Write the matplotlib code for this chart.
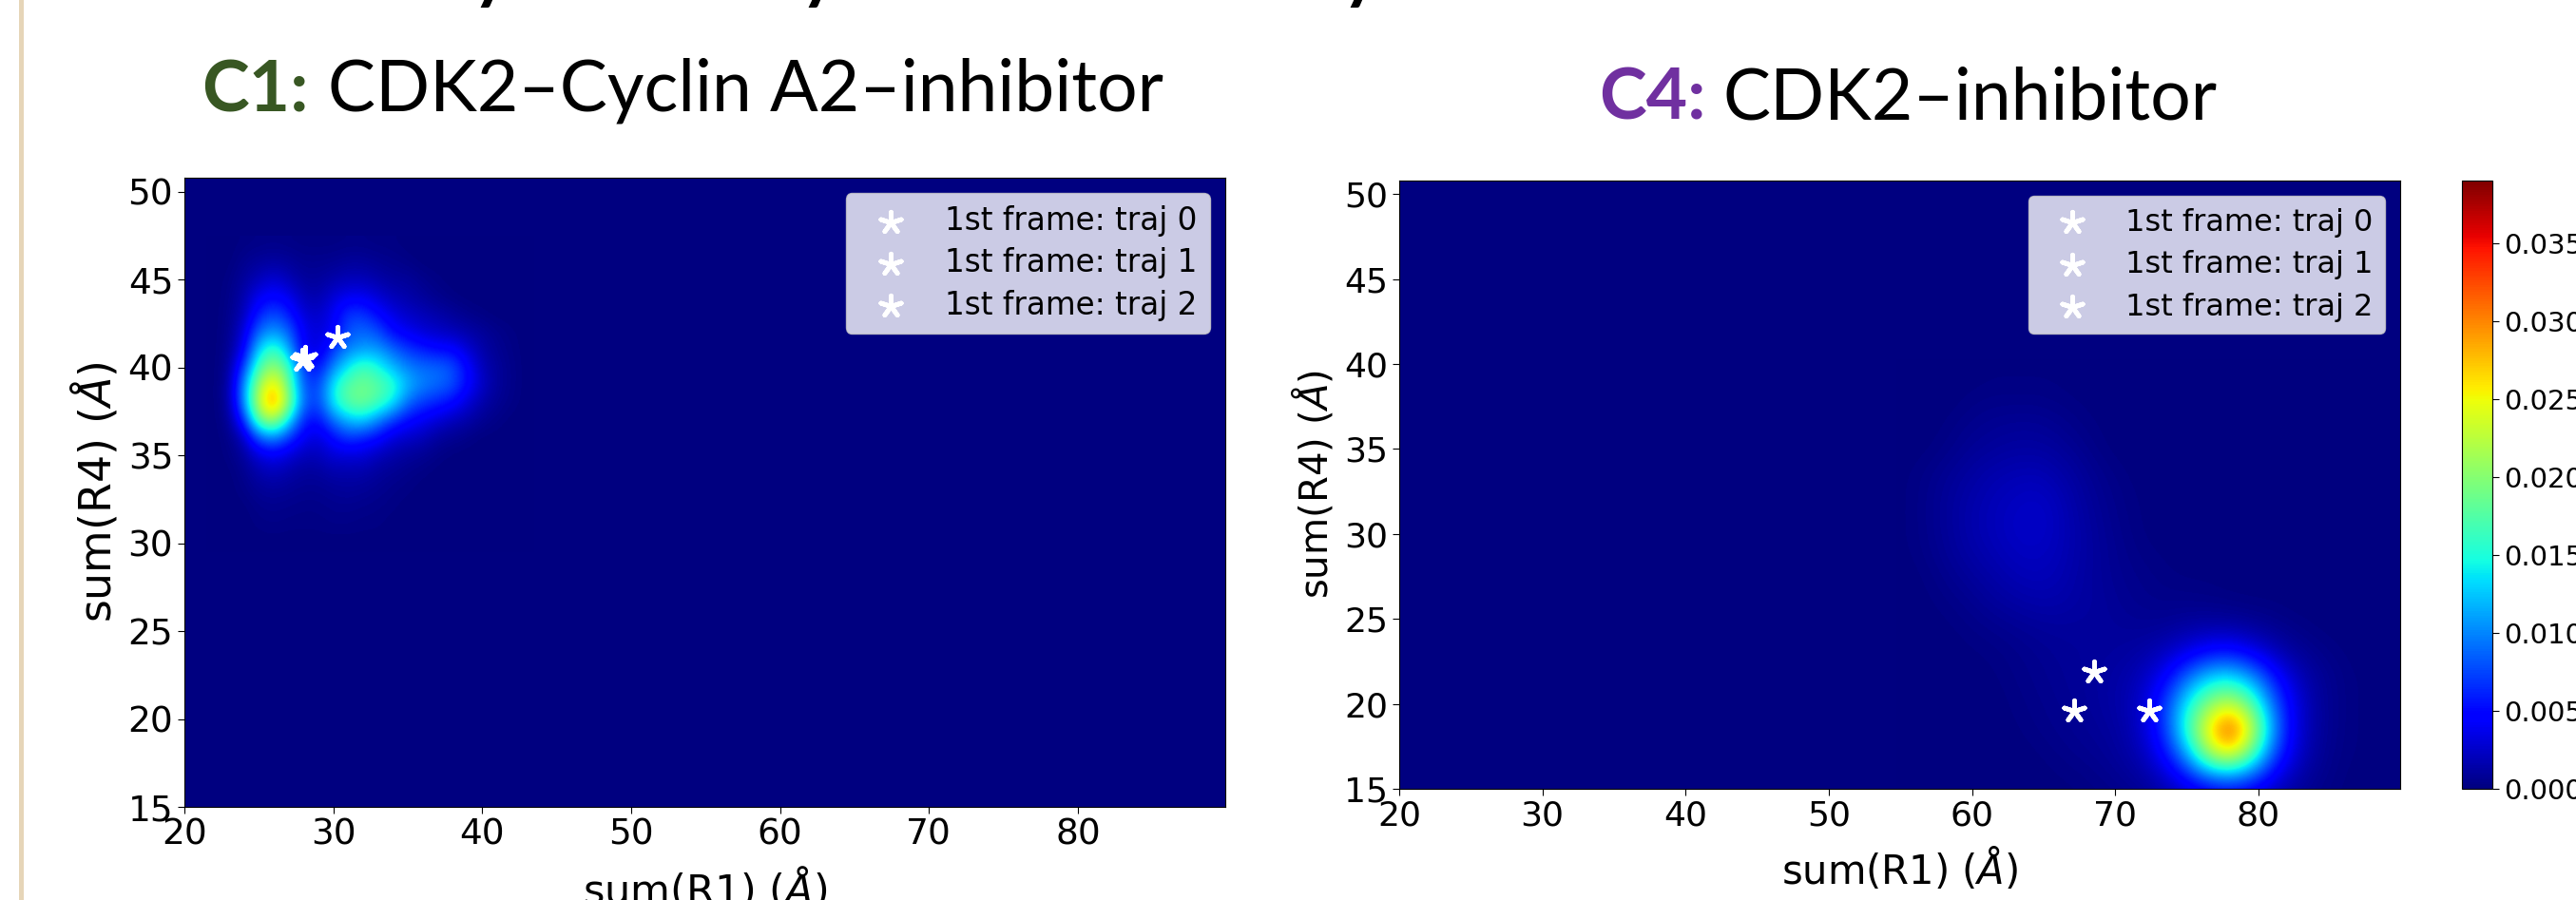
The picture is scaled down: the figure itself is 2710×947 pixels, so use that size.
"""Two 2D histograms of sum(R1) against sum(R4) with a shared colour bar."""

import numpy as np
import matplotlib
matplotlib.use('Agg')
import matplotlib.pyplot as plt
from matplotlib.patches import Rectangle

W, H = 2710, 947
VMAX = 0.039

# densities, in units of 0.001
c1_x = [22, 23, 24, 25, 26, 27, 28, 29, 30, 31, 32, 33, 34, 35, 36, 37, 38, 39, 40, 41, 42, 43]
c1_y = [47, 46, 45, 44, 43, 42, 41, 40, 39, 38, 37, 36, 35, 34, 33, 32, 31, 30]
c1_density = [
    [0, 0, 0.2, 0.3, 0.4, 0.3, 0.2, 0.2, 0.2, 0.3, 0.3, 0.2, 0.2, 0, 0, 0, 0, 0, 0, 0, 0, 0],
    [0, 0, 0.6, 1, 1.2, 1, 0.6, 0.6, 0.7, 1, 1, 0.7, 0.5, 0.3, 0, 0, 0, 0, 0, 0, 0, 0],
    [0, 0.2, 1, 2, 3, 2, 1, 1, 1.5, 2, 2, 1.5, 1, 1, 0.5, 0.2, 0, 0, 0, 0, 0, 0],
    [0, 0.3, 1.5, 4, 5, 4, 2, 1.5, 3, 4, 4, 3, 2, 1.5, 1, 0.5, 0.2, 0, 0, 0, 0, 0],
    [0, 0.4, 2, 6, 8, 6, 3, 2.5, 4, 7, 7, 5, 3.5, 2.5, 2, 1.5, 1, 0.5, 0.2, 0, 0, 0],
    [0, 0.5, 3, 9, 11, 9, 4, 3, 4, 8, 9, 8, 5, 4, 3, 2.5, 2, 1.5, 1, 0.5, 0.2, 0],
    [0, 0.6, 4, 13, 17, 12, 4, 3, 7, 10, 11, 11, 9, 7, 6, 5, 5, 3, 1.5, 0.7, 0.3, 0],
    [0, 0.8, 7, 17, 21, 17, 7, 5, 10, 14, 17, 15, 12, 10, 9, 9, 8, 5, 2, 1, 0.4, 0],
    [0, 1, 10, 21, 27, 19, 8, 7, 14, 18, 19, 18, 16, 12, 10, 9, 8, 5, 2.5, 1, 0.4, 0],
    [0, 1, 10, 23, 30, 21, 9, 7, 14, 18, 19, 17, 14, 9, 7, 6, 5, 3, 1.5, 0.7, 0.3, 0],
    [0, 0.6, 6, 18, 22, 14, 6, 5, 9, 12, 13, 10, 7, 5, 4, 3, 2, 1.5, 0.7, 0.3, 0, 0],
    [0, 0.3, 2, 8, 10, 7, 4, 3, 5, 7, 6, 5, 3, 2.5, 2, 1, 0.7, 0.3, 0, 0, 0, 0],
    [0, 0.2, 1, 3, 4, 3, 2, 2, 3, 3, 3, 2, 1.5, 1, 0.7, 0.3, 0, 0, 0, 0, 0, 0],
    [0, 0, 0.5, 1.5, 2, 1.5, 1, 1, 1.5, 1.5, 1.5, 1, 0.7, 0.4, 0.2, 0, 0, 0, 0, 0, 0, 0],
    [0, 0, 0.3, 0.8, 1, 0.8, 0.6, 0.6, 0.8, 1, 0.8, 0.6, 0.3, 0.2, 0, 0, 0, 0, 0, 0, 0, 0],
    [0, 0, 0, 0.4, 0.5, 0.4, 0.3, 0.3, 0.5, 0.5, 0.4, 0.3, 0.2, 0, 0, 0, 0, 0, 0, 0, 0, 0],
    [0, 0, 0, 0.2, 0.3, 0.2, 0.2, 0.2, 0.3, 0.3, 0.2, 0.2, 0, 0, 0, 0, 0, 0, 0, 0, 0, 0],
    [0, 0, 0, 0, 0, 0, 0, 0, 0, 0, 0, 0, 0, 0, 0, 0, 0, 0, 0, 0, 0, 0],
]

c4_x = [55.5, 57, 58.5, 60, 61.5, 63, 64.5, 66, 67.5, 69, 70.5, 72, 73.5, 75, 76.5, 78, 79.5, 81, 82.5, 84, 85.5, 87]
c4_y = [39.5, 38, 36.5, 35, 33.5, 32, 30.5, 29, 27.5, 26, 24.5, 23, 21.5, 20, 18.5, 17, 15.5, 14]
c4_density = [
    [0, 0, 0, 0, 0.1, 0.1, 0.1, 0.1, 0, 0, 0, 0, 0, 0, 0, 0, 0, 0, 0, 0, 0, 0],
    [0, 0, 0, 0.2, 0.3, 0.3, 0.3, 0.2, 0.1, 0, 0, 0, 0, 0, 0, 0, 0, 0, 0, 0, 0, 0],
    [0, 0, 0.2, 0.5, 0.7, 0.8, 0.8, 0.6, 0.3, 0.1, 0, 0, 0, 0, 0, 0, 0, 0, 0, 0, 0, 0],
    [0, 0.1, 0.4, 0.8, 1, 1.2, 1.2, 1, 0.6, 0.2, 0, 0, 0, 0, 0, 0, 0, 0, 0, 0, 0, 0],
    [0.1, 0.4, 0.8, 1.2, 1.6, 1.8, 1.9, 1.5, 1, 0.5, 0.2, 0, 0, 0, 0, 0, 0, 0, 0, 0, 0, 0],
    [0.1, 0.5, 1, 1.5, 1.9, 2.2, 2.4, 2, 1.2, 0.7, 0.3, 0.1, 0, 0, 0, 0, 0, 0, 0, 0, 0, 0],
    [0.1, 0.5, 1, 1.6, 2, 2.4, 2.6, 2.1, 1.4, 0.8, 0.4, 0.1, 0, 0, 0, 0, 0, 0, 0, 0, 0, 0],
    [0.1, 0.4, 0.9, 1.4, 1.8, 2.2, 2.3, 2, 1.4, 0.9, 0.5, 0.2, 0.1, 0, 0, 0, 0, 0, 0, 0, 0, 0],
    [0, 0.2, 0.6, 1, 1.4, 1.8, 2, 1.8, 1.3, 0.9, 0.6, 0.4, 0.2, 0.1, 0.1, 0, 0, 0, 0, 0, 0, 0],
    [0, 0.1, 0.3, 0.6, 1, 1.3, 1.5, 1.5, 1.2, 1, 0.7, 0.5, 0.4, 0.4, 0.3, 0.2, 0.1, 0.1, 0, 0, 0, 0],
    [0, 0, 0.1, 0.3, 0.5, 0.7, 0.9, 1, 1, 1, 0.9, 0.8, 0.9, 1.2, 1.4, 1.3, 1, 0.6, 0.3, 0.1, 0, 0],
    [0, 0, 0, 0.1, 0.2, 0.4, 0.6, 0.8, 0.9, 1, 1.1, 1.4, 2.2, 3.5, 5, 5.5, 4, 2.2, 1, 0.5, 0.2, 0],
    [0, 0, 0, 0, 0.1, 0.3, 0.5, 0.7, 0.9, 1.1, 1.4, 2.2, 4.5, 9, 13, 14, 11, 6, 2.5, 1, 0.4, 0.1],
    [0, 0, 0, 0, 0, 0.2, 0.4, 0.6, 0.8, 1.1, 1.5, 2.8, 7, 14, 20, 23, 18, 9, 3.5, 1.2, 0.4, 0.1],
    [0, 0, 0, 0, 0, 0.1, 0.3, 0.5, 0.7, 0.9, 1.3, 2.8, 7, 16, 26, 34, 24, 11, 3.5, 1.2, 0.4, 0.1],
    [0, 0, 0, 0, 0, 0, 0.1, 0.3, 0.5, 0.7, 1.1, 2, 5, 11, 21, 25, 18, 8, 3, 1, 0.3, 0.1],
    [0, 0, 0, 0, 0, 0, 0, 0.1, 0.2, 0.4, 0.7, 1.1, 2.2, 4.5, 7, 8, 6.5, 3.5, 1.5, 0.6, 0.2, 0],
    [0, 0, 0, 0, 0, 0, 0, 0, 0.1, 0.2, 0.3, 0.5, 1, 1.5, 2, 2.5, 2, 1.2, 0.6, 0.3, 0.1, 0],
]

# first frames of the three trajectories
c1_star_x = [27.9, 28.1, 30.3]
c1_star_y = [40.4, 40.6, 41.7]
c4_star_x = [67.1, 68.5, 72.4]
c4_star_y = [19.6, 21.9, 19.6]

legend_labels = ['1st frame: traj 0', '1st frame: traj 1', '1st frame: traj 2']
x_ticks = [20, 30, 40, 50, 60, 70, 80]
y_ticks = [15, 20, 25, 30, 35, 40, 45, 50]
cbar_ticks = [0.000, 0.005, 0.010, 0.015, 0.020, 0.025, 0.030, 0.035]


def add_axes_px(fig, left, top, right, bottom):
    return fig.add_axes([left / W, 1 - bottom / H, (right - left) / W, (bottom - top) / H])


def text_px(fig, x, y, s, **kw):
    return fig.text(x / W, 1 - y / H, s, **kw)


def plot_panel(ax, xs, ys, density, star_x, star_y, tick_size, xlabel_size, ylabel_size, legend_size, spacing):
    """Draw one density map, its start frames and the legend."""
    ax.set_facecolor(plt.cm.jet(0))
    xs = np.array(xs)
    ys = np.array(ys)
    dx = xs[1] - xs[0]
    dy = ys[0] - ys[1]
    extent = [xs[0] - dx / 2, xs[-1] + dx / 2, ys[-1] - dy / 2, ys[0] + dy / 2]
    im = ax.imshow(np.array(density) * 0.001, extent=extent, cmap='jet', vmin=0, vmax=VMAX,
                   interpolation='bicubic', aspect='auto', origin='upper')
    for sx, sy, label in zip(star_x, star_y, legend_labels):
        ax.scatter(sx, sy, marker=(5, 2, 0), s=260, c='white', linewidths=3.5, label=label)
    ax.set_xlim(20, 89.9)
    ax.set_ylim(15, 50.8)
    ax.set_xticks(x_ticks)
    ax.set_yticks(y_ticks)
    ax.tick_params(labelsize=tick_size, length=5)
    ax.set_xlabel('sum(R1) ($Å$)', fontsize=xlabel_size, labelpad=10)
    ax.set_ylabel('sum(R4) ($Å$)', fontsize=ylabel_size, labelpad=6)
    ax.legend(loc='upper right', fontsize=legend_size, labelspacing=spacing,
              borderaxespad=0.5, handletextpad=0.7, handlelength=2.1)
    return im


fig = plt.figure(figsize=(W / 100, H / 100), dpi=100, facecolor='white')

# beige strip of the slide on the left
fig.add_artist(Rectangle((20 / W, 0), 5 / W, 1, transform=fig.transFigure, color='#E6D5B8', lw=0))

ax1 = add_axes_px(fig, 194, 187, 1289, 849)
plot_panel(ax1, c1_x, c1_y, c1_density, c1_star_x, c1_star_y, 27, 31, 33, 23.5, 0.34)

ax2 = add_axes_px(fig, 1472, 190, 2525, 830)
im = plot_panel(ax2, c4_x, c4_y, c4_density, c4_star_x, c4_star_y, 26, 30, 29, 23, 0.42)

cax = add_axes_px(fig, 2590, 190, 2622, 830)
cbar = fig.colorbar(im, cax=cax)
cbar.set_ticks(cbar_ticks)
cbar.ax.tick_params(labelsize=21, length=5)
cbar.ax.set_yticklabels(['%.3f' % t for t in cbar_ticks])

# slide titles
title_font = ['Lato', 'DejaVu Sans']
text_px(fig, 212, 117, 'C1:', fontsize=54, fontweight='bold', color='#385723', family=title_font, va='baseline')
text_px(fig, 345, 117, 'CDK2–Cyclin A2–inhibitor', fontsize=54, color='black', family=title_font, va='baseline')
text_px(fig, 1682, 125, 'C4:', fontsize=54, fontweight='bold', color='#7030A0', family=title_font, va='baseline')
text_px(fig, 1812, 125, 'CDK2–inhibitor', fontsize=54, color='black', family=title_font, va='baseline')

# descenders of the slide heading cut off by the top edge
for x in [497, 842, 1412]:
    text_px(fig, x, -5, 'y', fontsize=54, fontweight='bold', color='black', family=title_font, va='baseline')

fig.savefig('out.png', dpi=100)
